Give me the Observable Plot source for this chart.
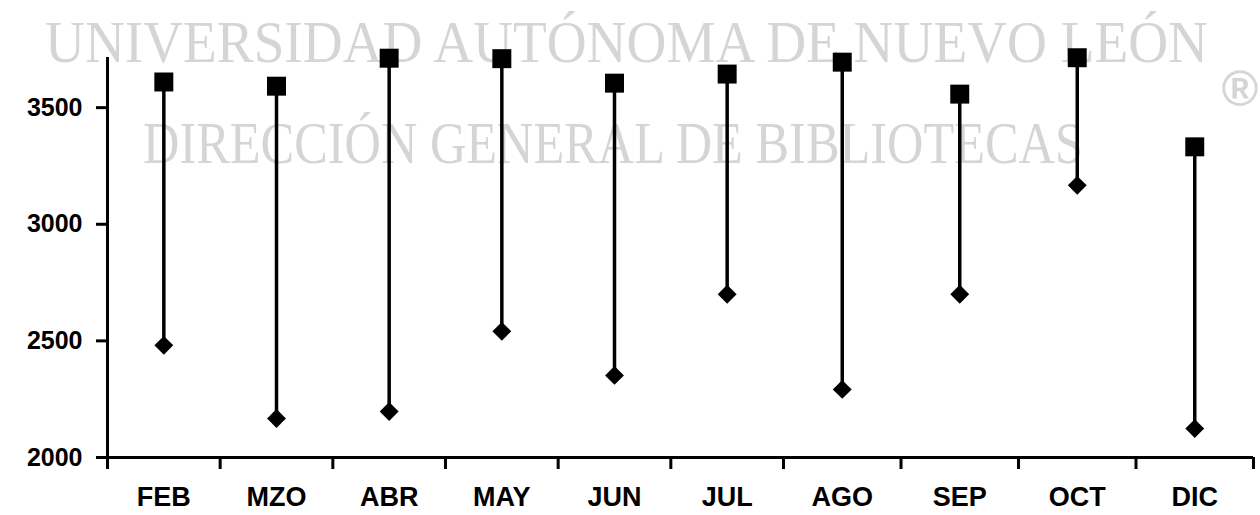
<!DOCTYPE html>
<html>
<head>
<meta charset="utf-8">
<script src="https://cdn.jsdelivr.net/npm/d3@7"></script>
<script src="https://cdn.jsdelivr.net/npm/@observablehq/plot@0.6"></script>
<style>
  html, body { margin: 0; padding: 0; background: #fff; }
  #chart svg { display: block; }
</style>
</head>
<body>
<div id="chart"></div>
<script>
const months = ["FEB", "MZO", "ABR", "MAY", "JUN", "JUL", "AGO", "SEP", "OCT", "DIC"];
const highs = [3610, 3592, 3712, 3710, 3605, 3644, 3695, 3558, 3714, 3332];
const lows  = [2481, 2167, 2197, 2541, 2352, 2700, 2292, 2700, 3167, 2124];
const yTicks = [2000, 2500, 3000, 3500];
const watermark1 = "UNIVERSIDAD AUTÓNOMA DE NUEVO LEÓN";
const watermark2 = "DIRECCIÓN GENERAL DE BIBLIOTECAS";
const regMark = "®";

const data = months.map((m, i) => ({ i, month: m, high: highs[i], low: lows[i] }));
const idx = months.map((m, i) => i);
const bounds = [-0.5, ...idx.map(i => i + 0.5)];

const chart = Plot.plot({
  width: 1260,
  height: 515,
  marginLeft: 107,
  marginRight: 7,
  marginTop: 57,
  marginBottom: 58,
  style: { background: "#fff", color: "#000", fontFamily: "'Liberation Sans', Arial, sans-serif" },
  x: { type: "linear", domain: [-0.5, 5.5, 9.5], range: [107, 783, 1253] },
  y: { domain: [2000, 3715] },
  marks: [
    Plot.axisY({ ticks: yTicks, tickSize: 11, tickPadding: 14, strokeWidth: 3, fontSize: 25, fontWeight: "bold", tickFormat: d => String(d), label: null }),
    Plot.axisX({ ticks: bounds, tickSize: 12, strokeWidth: 3, tickFormat: () => "", label: null }),
    Plot.axisX({ ticks: idx, tickSize: 0, tickPadding: 29, fontSize: 27, fontWeight: "bold", tickFormat: i => months[i], label: null }),
    Plot.ruleX([-0.5], { stroke: "#000", strokeWidth: 3 }),
    Plot.ruleY([2000], { stroke: "#000", strokeWidth: 3 }),
    Plot.ruleX(data, { x: "i", y1: "low", y2: "high", stroke: "#000", strokeWidth: 3.5 }),
    Plot.dot(data, { x: "i", y: "high", symbol: "square", r: 10.7, fill: "#000", stroke: "none" }),
    Plot.dot(data, { x: "i", y: "low", symbol: "diamond2", r: 8.5, fill: "#000", stroke: "none" })
  ]
});

// Watermark behind everything
const svg = d3.select(chart);
const wm = svg.insert("g", "g").attr("fill", "#d5d5d5").attr("text-anchor", "start")
  .attr("font-family", "'Liberation Serif', 'Times New Roman', serif");
wm.append("text").attr("x", 45).attr("y", 62).attr("font-size", 59)
  .attr("textLength", 1163).attr("lengthAdjust", "spacingAndGlyphs").text(watermark1);
wm.append("text").attr("x", 143).attr("y", 163).attr("font-size", 59)
  .attr("textLength", 940).attr("lengthAdjust", "spacingAndGlyphs").text(watermark2);
wm.append("text").attr("x", 1240).attr("y", 106).attr("font-size", 50).attr("text-anchor", "middle")
  .attr("font-family", "'Liberation Sans', Arial, sans-serif").attr("font-weight", "bold").text(regMark);

document.getElementById("chart").appendChild(chart);
</script>
</body>
</html>
